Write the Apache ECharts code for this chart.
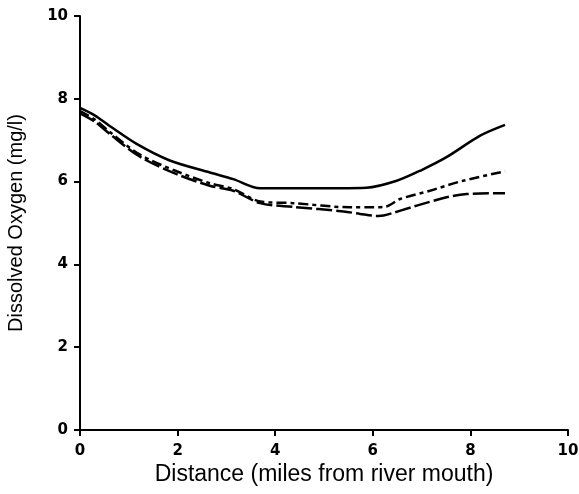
<!DOCTYPE html>
<html>
<head>
<meta charset="utf-8">
<script src="https://cdn.jsdelivr.net/npm/echarts@6/dist/echarts.min.js"></script>
<style>
  html, body { margin: 0; padding: 0; background: #fff; }
  #chart { width: 579px; height: 494px; }
</style>
</head>
<body>
<div id="chart"></div>
<script>
// distance (miles) vs dissolved oxygen (mg/l)
const solidX = [0, 0.3, 0.6, 1.16, 1.84, 2.66, 3.14, 3.69, 4.5, 5.3, 5.87, 6.49, 7.0, 7.51, 8.2, 8.71]
const solidY = [7.78, 7.6, 7.35, 6.91, 6.51, 6.22, 6.06, 5.84, 5.84, 5.84, 5.85, 6.02, 6.28, 6.59, 7.11, 7.37]

const dashDotX = [0, 0.3, 0.61, 1.23, 1.98, 2.66, 3.14, 3.69, 4.37, 5.53, 6.0, 6.28, 6.56, 7.17, 7.85, 8.71]
const dashDotY = [7.7, 7.5, 7.2, 6.65, 6.25, 5.96, 5.82, 5.52, 5.48, 5.38, 5.38, 5.4, 5.58, 5.78, 6.02, 6.25]

const longDashX = [0, 0.3, 0.61, 1.23, 1.98, 2.66, 3.14, 3.69, 4.37, 5.4, 5.74, 6.1, 6.22, 6.9, 7.51, 7.92, 8.71]
const longDashY = [7.65, 7.45, 7.15, 6.6, 6.18, 5.9, 5.78, 5.48, 5.39, 5.28, 5.22, 5.17, 5.18, 5.42, 5.62, 5.7, 5.72]

const xTicks = [0, 2, 4, 6, 8, 10]
const yTicks = [0, 2, 4, 6, 8, 10]

const zip = (xs, ys) => xs.map((x, i) => [x, ys[i]])

function lineSeries (xs, ys, type) {
  return {
    type: 'line',
    data: zip(xs, ys),
    smooth: 0.3,
    showSymbol: false,
    lineStyle: { color: '#000', width: 2.5, type: type }
  }
}

const axisCommon = {
  min: 0,
  max: 10,
  interval: 2,
  splitLine: { show: false },
  axisLine: { lineStyle: { color: '#000', width: 2 } },
  axisTick: { length: 6, lineStyle: { color: '#000', width: 2 } },
  axisLabel: { color: '#000', fontFamily: 'DejaVu Sans', fontWeight: 'bold', fontSize: 15 }
}

const chart = echarts.init(document.getElementById('chart'))
chart.setOption({
  animation: false,
  backgroundColor: '#fff',
  grid: { left: 80, right: 11, top: 16, bottom: 64, outerBoundsMode: 'none' },
  xAxis: {
    ...axisCommon,
    type: 'value',
    axisLabel: {
      ...axisCommon.axisLabel,
      margin: 14,
      formatter: v => (xTicks.includes(v) ? String(v) : '')
    },
    name: 'Distance (miles from river mouth)',
    nameLocation: 'middle',
    nameGap: 33,
    nameMoveOverlap: false,
    nameTextStyle: { color: '#000', fontFamily: 'Liberation Sans', fontSize: 23 }
  },
  yAxis: {
    ...axisCommon,
    type: 'value',
    axisLabel: {
      ...axisCommon.axisLabel,
      margin: 12,
      formatter: v => (yTicks.includes(v) ? String(v) : '')
    },
    name: 'Dissolved Oxygen (mg/l)',
    nameLocation: 'middle',
    nameGap: 54,
    nameMoveOverlap: false,
    nameTextStyle: { color: '#000', fontFamily: 'Liberation Sans', fontSize: 20 }
  },
  series: [
    lineSeries(solidX, solidY, 'solid'),
    lineSeries(dashDotX, dashDotY, [10, 4, 4, 4]),
    lineSeries(longDashX, longDashY, [16, 4])
  ]
})
</script>
</body>
</html>
